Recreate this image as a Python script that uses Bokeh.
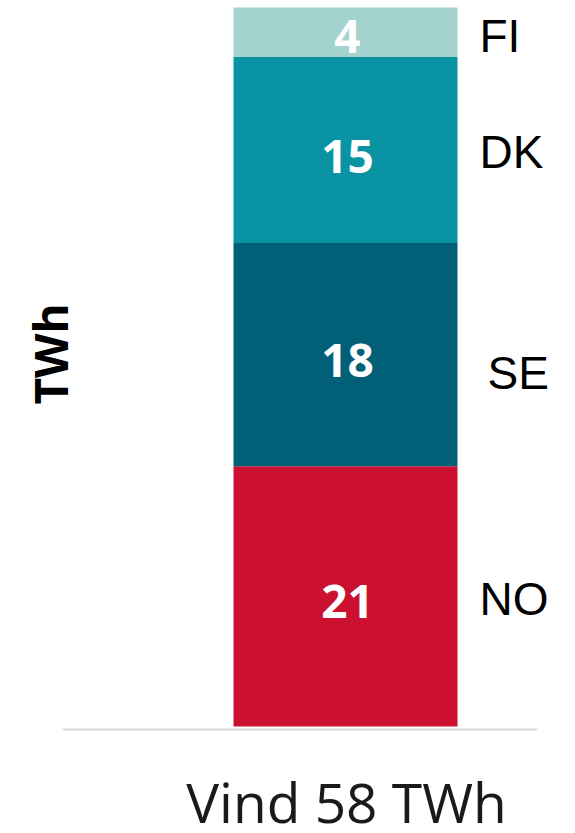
from bokeh.plotting import figure
from bokeh.models import Range1d, ColumnDataSource
from bokeh.core.properties import value
from bokeh.embed import file_html
from bokeh.resources import INLINE

# Data
countries = ["NO", "SE", "DK", "FI"]
twh = [21, 18, 15, 4]
colors = ["#cc1030", "#025f78", "#0a93a3", "#a3d2cf"]
total_label = "Vind 58 TWh"
y_label = "TWh"

bottoms, tops = [], []
acc = 0
for v in twh:
    bottoms.append(acc)
    acc += v
    tops.append(acc)
mids = [(b + t) / 2 for b, t in zip(bottoms, tops)]

W, H = 567, 825
p = figure(width=W, height=H, output_backend="svg", toolbar_location=None,
           x_range=Range1d(0, W), y_range=Range1d(-7.986, 58.56),
           min_border=0, outline_line_color=None)
p.axis.visible = False
p.grid.visible = False
p.background_fill_color = "white"
p.border_fill_color = "white"

bar_x, bar_w = 345, 224
src = ColumnDataSource(dict(c=countries, v=[str(x) for x in twh], b=bottoms, t=tops,
                            m=mids, color=colors, vo=[5, 6, 6, 4]))
p.vbar(x=bar_x, width=bar_w, bottom="b", top="t", fill_color="color",
       line_color=None, source=src)

# baseline
p.segment(x0=[62], y0=[-0.25], x1=[537], y1=[-0.25], line_color="#d9d9d9", line_width=2)

# value labels
p.text(x=bar_x + 2, y="m", text="v", source=src, text_color="white",
       text_font=value("Open Sans"), text_font_style="bold", text_font_size="46px",
       text_align="center", text_baseline="middle", y_offset="vo")

# country labels
lab_off = [3, 18, 2, 4]
lab_dx = [479, 487, 479, 479]
src2 = ColumnDataSource(dict(x=lab_dx, y=mids, t=countries, yo=lab_off))
p.text(x="x", y="y", text="t", source=src2, y_offset="yo", text_color="black",
       text_font=value("Liberation Sans"), text_font_size="46px",
       text_align="left", text_baseline="middle")

# y label
p.text(x=[49.5], y=[30.05], text=[y_label], angle=1.5708,
       text_color="black", text_font=value("Open Sans"), text_font_style="bold",
       text_font_size="46px", text_align="center", text_baseline="middle")

# x label
p.text(x=[346], y=[-6.05], text=[total_label], text_color="#1a1a1a",
       text_font=value("Open Sans"), text_font_size="55px",
       text_align="center", text_baseline="middle")

open("out.html", "w").write(file_html(p, INLINE))
